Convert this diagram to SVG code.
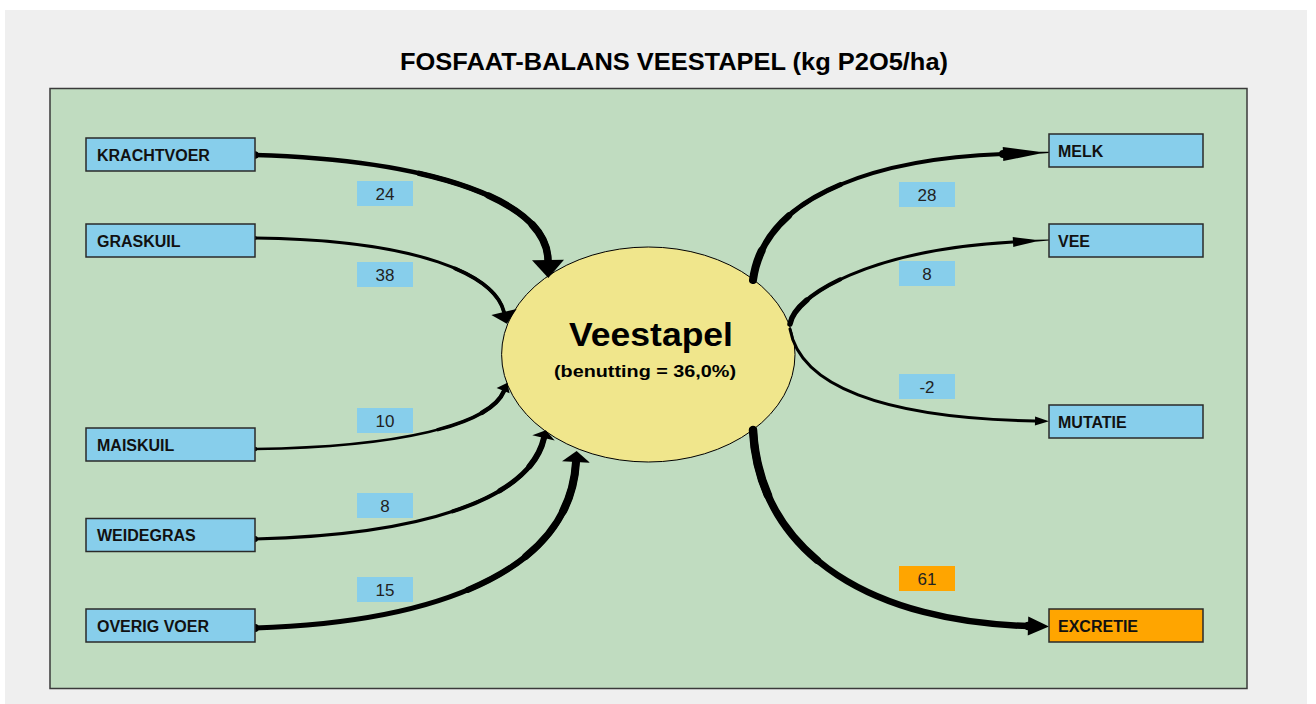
<svg xmlns="http://www.w3.org/2000/svg" width="1316" height="704" viewBox="0 0 1316 704">
<style>
.bg{fill:#ffffff}
.panel{fill:#efefef}
.plot{fill:#c0dcc0;stroke:#3a3a3a;stroke-width:1.5}
.title{font-family:"Liberation Sans",Arial,sans-serif;font-weight:bold;font-size:24px;fill:#000}
.box{fill:#87ceeb;stroke:#2a2a2a;stroke-width:1.5}
.boxo{fill:#ffa500;stroke:#2a2a2a;stroke-width:1.5}
.btxt{font-family:"Liberation Sans",Arial,sans-serif;font-weight:bold;font-size:16px;fill:#111}
.lbl{fill:#87ceeb}
.lblo{fill:#ffa500}
.ltxt{font-family:"Liberation Sans",Arial,sans-serif;font-size:17px;fill:#222;text-anchor:middle}
.flow{fill:none;stroke:#000;stroke-linecap:round}
.ell{fill:#f0e68c;stroke:#000;stroke-width:1}
.etitle{font-family:"Liberation Sans",Arial,sans-serif;font-weight:bold;font-size:34px;fill:#000;text-anchor:middle}
.esub{font-family:"Liberation Sans",Arial,sans-serif;font-weight:bold;font-size:17px;fill:#000;text-anchor:middle}
</style>
<defs>
<marker id="aKr" markerUnits="userSpaceOnUse" orient="auto" refX="0" refY="0" markerWidth="40" markerHeight="40" overflow="visible"><path d="M0,-16 L18,0 L0,16 Z" fill="#000"/></marker>
<marker id="aGr" markerUnits="userSpaceOnUse" orient="auto" refX="0" refY="0" markerWidth="40" markerHeight="40" overflow="visible"><path d="M0,-13 L12,0 L0,13 Z" fill="#000"/></marker>
<marker id="aMa" markerUnits="userSpaceOnUse" orient="auto" refX="0" refY="0" markerWidth="40" markerHeight="40" overflow="visible"><path d="M0,-8 L9,0 L0,6 Z" fill="#000"/></marker>
<marker id="aWe" markerUnits="userSpaceOnUse" orient="auto" refX="0" refY="0" markerWidth="40" markerHeight="40" overflow="visible"><path d="M0,-12 L8,0 L0,11 Z" fill="#000"/></marker>
<marker id="aOv" markerUnits="userSpaceOnUse" orient="auto" refX="0" refY="0" markerWidth="40" markerHeight="40" overflow="visible"><path d="M0,-14 L11,0 L0,14 Z" fill="#000"/></marker>
<marker id="aMe" markerUnits="userSpaceOnUse" orient="auto" refX="0" refY="0" markerWidth="60" markerHeight="40" overflow="visible"><path d="M0,-7 L36,-1 L46,-0.6 L46,0.6 L36,1 L0,7 Z" fill="#000"/></marker>
<marker id="aVe" markerUnits="userSpaceOnUse" orient="auto" refX="0" refY="0" markerWidth="60" markerHeight="40" overflow="visible"><path d="M0,-5 L22,-1 L36,-0.6 L36,0.6 L22,1 L0,5 Z" fill="#000"/></marker>
<marker id="aMu" markerUnits="userSpaceOnUse" orient="auto" refX="0" refY="0" markerWidth="40" markerHeight="40" overflow="visible"><path d="M0,-4.5 L14,0 L0,4.5 Z" fill="#000"/></marker>
<marker id="aEx" markerUnits="userSpaceOnUse" orient="auto" refX="0" refY="0" markerWidth="40" markerHeight="40" overflow="visible"><path d="M0,-9.5 L21,0 L0,9.5 Z" fill="#000"/></marker>
</defs>
<rect class="bg" x="0" y="0" width="1316" height="704"/>
<rect class="panel" x="5" y="10" width="1302" height="694"/>
<text class="title" x="674" y="70" text-anchor="middle" textLength="548" lengthAdjust="spacingAndGlyphs">FOSFAAT-BALANS VEESTAPEL (kg P2O5/ha)</text>
<rect class="plot" x="50" y="88.5" width="1197" height="600"/>

<g id="veestapel">
<ellipse class="ell" cx="648.3" cy="354.5" rx="146.7" ry="107.5"/>
<text class="etitle" x="651" y="346" textLength="164" lengthAdjust="spacingAndGlyphs">Veestapel</text>
<text class="esub" x="645" y="377" textLength="182" lengthAdjust="spacingAndGlyphs">(benutting = 36,0%)</text>
</g>

<g id="connectors">
<g id="c-krachtvoer">
<path class="flow" d="M255,155 C430,160 547,200 548,260" stroke-width="4.5" marker-end="url(#aKr)"/>
<path class="flow" d="M255,155 C430,160 547,200 548,260" stroke-width="5.5" pathLength="100" stroke-dasharray="0 50 50"/>
<path class="flow" d="M255,155 C430,160 547,200 548,260" stroke-width="6.5" pathLength="100" stroke-dasharray="0 72 28"/>
<path class="flow" d="M255,155 C430,160 547,200 548,260" stroke-width="7.5" pathLength="100" stroke-dasharray="0 88 12"/>
</g>
<g id="c-graskuil">
<path class="flow" d="M255,238 C420,240 495,275 504,312" stroke-width="3" marker-end="url(#aGr)"/>
<path class="flow" d="M255,238 C420,240 495,275 504,312" stroke-width="3.8" pathLength="100" stroke-dasharray="0 75 25"/>
</g>
<g id="c-maiskuil">
<path class="flow" d="M255,449 C400,447 490,425 504,391" stroke-width="2.5" marker-end="url(#aMa)"/>
<path class="flow" d="M255,449 C400,447 490,425 504,391" stroke-width="3.5" pathLength="100" stroke-dasharray="0 70 30"/>
<path class="flow" d="M255,449 C400,447 490,425 504,391" stroke-width="4.5" pathLength="100" stroke-dasharray="0 88 12"/>
</g>
<g id="c-weidegras">
<path class="flow" d="M255,539 C420,535 530,500 544,438" stroke-width="3" marker-end="url(#aWe)"/>
<path class="flow" d="M255,539 C420,535 530,500 544,438" stroke-width="4" pathLength="100" stroke-dasharray="0 62 38"/>
<path class="flow" d="M255,539 C420,535 530,500 544,438" stroke-width="5" pathLength="100" stroke-dasharray="0 78 22"/>
<path class="flow" d="M255,539 C420,535 530,500 544,438" stroke-width="6" pathLength="100" stroke-dasharray="0 90 10"/>
</g>
<g id="c-overigvoer">
<path class="flow" d="M255,628 C440,622 570,570 576,462" stroke-width="5" marker-end="url(#aOv)"/>
<path class="flow" d="M255,628 C440,622 570,570 576,462" stroke-width="6" pathLength="100" stroke-dasharray="0 55 45"/>
<path class="flow" d="M255,628 C440,622 570,570 576,462" stroke-width="7" pathLength="100" stroke-dasharray="0 72 28"/>
<path class="flow" d="M255,628 C440,622 570,570 576,462" stroke-width="8" pathLength="100" stroke-dasharray="0 87 13"/>
</g>
<g id="c-melk">
<path class="flow" d="M753,280 C765,190 890,158 1003,154" stroke-width="4" marker-end="url(#aMe)"/>
<path class="flow" d="M753,280 C765,190 890,158 1003,154" stroke-width="5" pathLength="100" stroke-dasharray="45 55"/>
<path class="flow" d="M753,280 C765,190 890,158 1003,154" stroke-width="6.5" pathLength="100" stroke-dasharray="25 75"/>
<path class="flow" d="M753,280 C765,190 890,158 1003,154" stroke-width="8" pathLength="100" stroke-dasharray="10 90"/>
</g>
<g id="c-vee">
<path class="flow" d="M790,324 C795,295 870,250 1013,242" stroke-width="3" marker-end="url(#aVe)"/>
<path class="flow" d="M790,324 C795,295 870,250 1013,242" stroke-width="4.2" pathLength="100" stroke-dasharray="28 72"/>
<path class="flow" d="M790,324 C795,295 870,250 1013,242" stroke-width="5.5" pathLength="100" stroke-dasharray="12 88"/>
</g>
<g id="c-mutatie">
<path class="flow" d="M790,329 C800,385 880,418 1035,421" stroke-width="3" marker-end="url(#aMu)"/>
</g>
<g id="c-excretie">
<path class="flow" d="M753,430 C760,560 880,622 1028,626" stroke-width="6.5" marker-end="url(#aEx)"/>
<path class="flow" d="M753,430 C760,560 880,622 1028,626" stroke-width="7.5" pathLength="100" stroke-dasharray="40 60"/>
<path class="flow" d="M753,430 C760,560 880,622 1028,626" stroke-width="8.5" pathLength="100" stroke-dasharray="18 82"/>
</g>
</g>

<g id="labels">
<g id="l-krachtvoer"><rect class="lbl" x="357" y="181" width="56" height="25"/><text class="ltxt" x="385" y="200">24</text></g>
<g id="l-graskuil"><rect class="lbl" x="357" y="262" width="56" height="25"/><text class="ltxt" x="385" y="281">38</text></g>
<g id="l-maiskuil"><rect class="lbl" x="357" y="408" width="56" height="25"/><text class="ltxt" x="385" y="427">10</text></g>
<g id="l-weidegras"><rect class="lbl" x="357" y="493" width="56" height="25"/><text class="ltxt" x="385" y="512">8</text></g>
<g id="l-overigvoer"><rect class="lbl" x="357" y="577" width="56" height="25"/><text class="ltxt" x="385" y="596">15</text></g>
<g id="l-melk"><rect class="lbl" x="899" y="182" width="56" height="25"/><text class="ltxt" x="927" y="201">28</text></g>
<g id="l-vee"><rect class="lbl" x="899" y="261" width="56" height="25"/><text class="ltxt" x="927" y="280">8</text></g>
<g id="l-mutatie"><rect class="lbl" x="899" y="374" width="56" height="25"/><text class="ltxt" x="927" y="393">-2</text></g>
<g id="l-excretie"><rect class="lblo" x="899" y="566" width="56" height="25"/><text class="ltxt" x="927" y="585">61</text></g>
</g>

<g id="n-krachtvoer"><rect class="box" x="86" y="138" width="169" height="33"/><text class="btxt" x="97" y="160.5">KRACHTVOER</text></g>
<g id="n-graskuil"><rect class="box" x="86" y="224" width="169" height="33"/><text class="btxt" x="97" y="246.5">GRASKUIL</text></g>
<g id="n-maiskuil"><rect class="box" x="86" y="428" width="169" height="33"/><text class="btxt" x="97" y="450.5">MAISKUIL</text></g>
<g id="n-weidegras"><rect class="box" x="86" y="518.5" width="169" height="33"/><text class="btxt" x="97" y="541">WEIDEGRAS</text></g>
<g id="n-overigvoer"><rect class="box" x="86" y="609" width="169" height="33"/><text class="btxt" x="97" y="631.5">OVERIG VOER</text></g>
<g id="n-melk"><rect class="box" x="1049" y="134" width="154" height="33"/><text class="btxt" x="1058" y="156.5">MELK</text></g>
<g id="n-vee"><rect class="box" x="1049" y="224" width="154" height="33"/><text class="btxt" x="1058" y="246.5">VEE</text></g>
<g id="n-mutatie"><rect class="box" x="1049" y="405" width="154" height="33"/><text class="btxt" x="1058" y="427.5">MUTATIE</text></g>
<g id="n-excretie"><rect class="boxo" x="1049" y="609" width="154" height="33"/><text class="btxt" x="1058" y="631.5">EXCRETIE</text></g>
</svg>
